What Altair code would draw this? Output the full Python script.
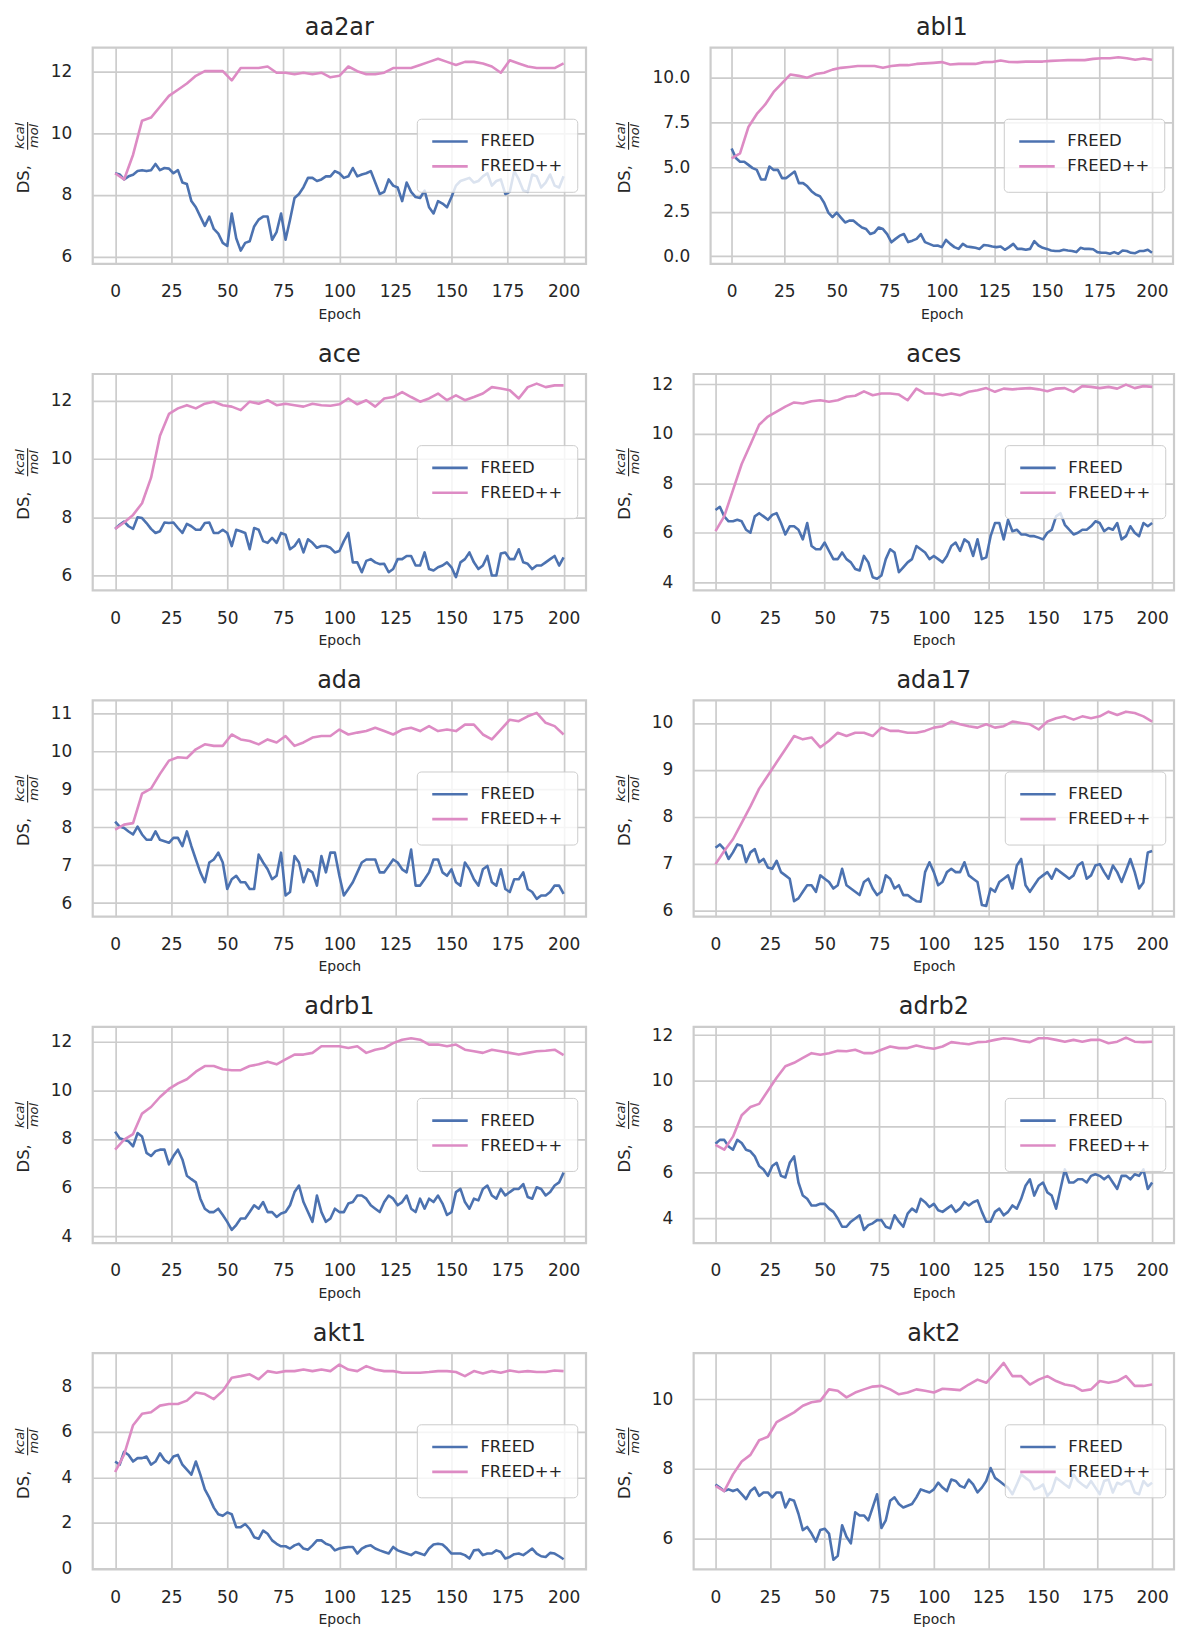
import altair as alt
import pandas as pd

FONT = "DejaVu Sans"
TXT = "#262626"
GRID = "#cccccc"

EPOCHS = list(range(0, 201, 4))       # FREED / FREED++ read every 4 epochs
EPOCHS_MID = list(range(2, 200, 4))   # extra FREED readings in between
METHODS = ["FREED", "FREED++"]
COLORS = ["#4c72b0", "#dd8bc4"]
X_TICKS = [0, 25, 50, 75, 100, 125, 150, 175, 200]
X_DOMAIN = [-10, 210]

AA2AR_FREED = [8.7, 8.5, 8.65, 8.8, 8.8, 8.8, 8.85, 8.8, 8.35, 7.6, 7.0, 6.9, 6.45, 7.4, 6.2, 6.5, 7.2, 7.3, 6.8, 6.55,
               7.9, 8.25, 8.55, 8.5, 8.6, 8.7, 8.6, 8.6, 8.7, 8.4, 8.1, 8.3, 7.8, 8.1, 7.9, 7.6, 7.8, 7.6, 8.3, 8.5,
               8.4, 8.6, 8.3, 8.5, 8.1, 8.5, 8.1, 8.6, 8.4, 8.3, 8.6]
AA2AR_FREED_MID = [8.66, 8.6, 8.77, 8.77, 9.0, 8.87, 8.7, 8.4, 7.8, 7.3,
                   7.3, 6.75, 6.35, 6.6, 6.45, 6.98, 7.3, 6.55, 7.4, 7.2,
                   8.03, 8.55, 8.45, 8.6, 8.77, 8.55, 8.87, 8.66, 8.77, 8.03,
                   8.5, 8.24, 8.4, 7.93, 8.14, 7.4, 7.72, 7.93, 8.45, 8.55,
                   8.45, 8.7, 8.45, 8.03, 8.77, 8.14, 8.66, 8.24, 8.66, 8.24]
AA2AR_FREEDPP = [8.7, 8.5, 9.3, 10.4, 10.5, 10.85, 11.2, 11.4, 11.6, 11.85, 12.0, 12.0, 12.0, 11.7, 12.1, 12.1, 12.1, 12.15, 11.95, 11.95,
                 11.9, 11.95, 11.9, 11.95, 11.8, 11.85, 12.15, 12.0, 11.9, 11.9, 11.95, 12.1, 12.1, 12.1, 12.2, 12.3, 12.4, 12.3, 12.2, 12.3,
                 12.3, 12.25, 12.15, 11.95, 12.35, 12.25, 12.15, 12.1, 12.1, 12.1, 12.25]

ABL1_FREED = [6.04, 5.3, 5.12, 4.84, 4.3, 4.84, 4.38, 4.57, 4.1, 3.92, 3.46, 3.0, 2.2, 2.17, 2.0, 1.8, 1.53, 1.34, 1.53, 0.79,
              1.16, 0.8, 0.98, 0.8, 0.6, 0.52, 0.7, 0.42, 0.55, 0.48, 0.64, 0.55, 0.55, 0.52, 0.42, 0.37, 0.85, 0.48, 0.33, 0.3,
              0.33, 0.24, 0.42, 0.4, 0.2, 0.15, 0.15, 0.3, 0.18, 0.3, 0.2]
ABL1_FREED_MID = [5.5, 5.3, 4.94, 4.3, 5.03, 4.84, 4.38, 4.75, 4.1, 3.65,
                  3.37, 2.45, 2.45, 1.9, 2.0, 1.62, 1.25, 1.62, 1.25, 0.98,
                  1.25, 0.88, 1.25, 0.7, 0.61, 0.92, 0.52, 0.7, 0.52, 0.42,
                  0.61, 0.52, 0.37, 0.7, 0.42, 0.42, 0.61, 0.42, 0.3, 0.37,
                  0.3, 0.48, 0.42, 0.24, 0.2, 0.24, 0.33, 0.2, 0.3, 0.37]
ABL1_FREEDPP = [5.49, 5.76, 7.24, 7.97, 8.5, 9.2, 9.7, 10.18, 10.1, 10.0, 10.2, 10.28, 10.45, 10.55, 10.6, 10.65, 10.65, 10.65, 10.55, 10.65,
                10.7, 10.7, 10.77, 10.8, 10.83, 10.87, 10.74, 10.77, 10.77, 10.77, 10.87, 10.88, 10.96, 10.88, 10.87, 10.9, 10.9, 10.9, 10.94, 10.96,
                10.98, 10.98, 10.98, 11.05, 11.09, 11.09, 11.14, 11.09, 11.0, 11.07, 11.0]

ACE_FREED = [7.6, 7.85, 7.6, 7.97, 7.6, 7.52, 7.8, 7.63, 7.77, 7.57, 7.8, 7.46, 7.57, 7.01, 7.52, 6.9, 7.57, 7.12, 7.12, 7.4,
             7.01, 6.79, 7.12, 7.01, 6.95, 6.84, 7.46, 6.45, 6.5, 6.45, 6.4, 6.22, 6.56, 6.67, 6.34, 6.22, 6.28, 6.45, 5.94, 6.56,
             6.45, 6.34, 6.0, 6.75, 6.56, 6.9, 6.4, 6.34, 6.45, 6.67, 6.62]
ACE_FREED_MID = [7.74, 7.69, 8.0, 7.8, 7.46, 7.82, 7.82, 7.46, 7.69, 7.57,
                 7.82, 7.46, 7.46, 7.57, 7.46, 7.63, 7.18, 7.29, 7.46, 6.9,
                 7.24, 7.24, 6.95, 7.01, 6.79, 7.18, 6.45, 6.11, 6.56, 6.39,
                 6.11, 6.56, 6.67, 6.34, 6.79, 6.17, 6.34, 6.28, 6.45, 6.79,
                 6.22, 6.67, 6.0, 6.79, 6.56, 6.45, 6.22, 6.34, 6.56, 6.34]
ACE_FREEDPP = [7.6, 7.82, 8.08, 8.48, 9.35, 10.8, 11.55, 11.74, 11.85, 11.74, 11.9, 11.97, 11.85, 11.8, 11.68, 11.97, 11.9, 12.02, 11.85, 11.9,
               11.85, 11.8, 11.9, 11.85, 11.83, 11.88, 12.08, 11.88, 12.02, 11.8, 12.08, 12.13, 12.3, 12.13, 11.97, 12.08, 12.25, 12.02, 12.19, 12.02,
               12.13, 12.25, 12.47, 12.42, 12.36, 12.08, 12.47, 12.59, 12.47, 12.53, 12.53]

ACES_FREED = [6.92, 6.66, 6.46, 6.46, 6.0, 6.79, 6.52, 6.79, 5.93, 6.26, 5.73, 5.46, 5.33, 5.26, 4.93, 4.93, 4.53, 5.06, 4.2, 4.27,
              5.33, 4.4, 4.8, 5.46, 5.2, 5.06, 4.8, 5.46, 5.26, 5.6, 5.73, 5.0, 6.39, 5.73, 6.06, 5.93, 5.86, 5.8, 6.0, 6.66,
              6.32, 5.93, 6.12, 6.26, 6.39, 6.19, 6.39, 5.86, 6.0, 6.39, 6.39]
ACES_FREED_MID = [7.05, 6.46, 6.52, 6.12, 6.66, 6.66, 6.72, 6.39, 6.26, 6.12,
                  6.39, 5.33, 5.6, 4.93, 5.2, 4.8, 4.47, 4.8, 4.14, 4.93,
                  5.2, 4.6, 4.93, 5.33, 4.93, 4.93, 5.06, 5.6, 5.73, 5.06,
                  4.93, 5.86, 6.39, 6.52, 6.12, 5.93, 5.86, 5.73, 6.12, 6.79,
                  6.12, 6.0, 6.12, 6.46, 6.06, 6.12, 5.73, 6.26, 5.86, 6.26]
ACES_FREEDPP = [6.06, 6.66, 7.72, 8.78, 9.57, 10.37, 10.7, 10.9, 11.1, 11.27, 11.23, 11.32, 11.36, 11.3, 11.36, 11.5, 11.54, 11.72, 11.56, 11.63,
                11.63, 11.59, 11.36, 11.83, 11.63, 11.63, 11.56, 11.63, 11.56, 11.7, 11.76, 11.85, 11.7, 11.83, 11.8, 11.83, 11.85, 11.8, 11.72, 11.83,
                11.85, 11.7, 11.93, 11.9, 11.85, 11.9, 11.83, 11.99, 11.85, 11.93, 11.9]

ADA_FREED = [8.15, 7.98, 7.81, 7.81, 7.67, 7.67, 7.59, 7.72, 7.89, 7.15, 6.55, 7.15, 7.07, 6.63, 6.55, 6.37, 7.28, 6.89, 6.72, 6.2,
             7.24, 6.55, 6.81, 7.24, 7.33, 6.72, 6.37, 6.81, 7.15, 7.15, 6.81, 7.15, 6.89, 7.41, 6.46, 6.81, 7.15, 6.72, 6.55, 7.07,
             6.63, 6.89, 6.55, 6.89, 6.29, 6.63, 6.37, 6.11, 6.2, 6.46, 6.24]
ADA_FREED_MID = [8.02, 7.89, 8.02, 7.67, 7.89, 7.63, 7.72, 7.5, 7.5, 6.81,
                 7.07, 7.33, 6.37, 6.72, 6.55, 6.37, 7.07, 6.63, 7.33, 6.29,
                 7.07, 6.89, 6.46, 6.81, 7.33, 6.2, 6.55, 7.07, 7.15, 6.81,
                 6.98, 7.07, 6.81, 6.46, 6.63, 7.15, 6.81, 6.89, 6.46, 6.89,
                 6.46, 6.98, 6.46, 6.37, 6.63, 6.81, 6.29, 6.2, 6.29, 6.46]
ADA_FREEDPP = [7.94, 8.07, 8.11, 8.89, 9.02, 9.41, 9.76, 9.85, 9.83, 10.06, 10.19, 10.15, 10.15, 10.45, 10.32, 10.28, 10.19, 10.32, 10.24, 10.41,
               10.15, 10.24, 10.37, 10.41, 10.41, 10.58, 10.45, 10.5, 10.54, 10.63, 10.54, 10.45, 10.58, 10.63, 10.54, 10.67, 10.54, 10.58, 10.54, 10.71,
               10.71, 10.45, 10.32, 10.58, 10.84, 10.8, 10.93, 11.02, 10.76, 10.67, 10.45]

ADA17_FREED = [7.34, 7.31, 7.24, 7.38, 7.24, 7.03, 6.92, 7.06, 6.75, 6.2, 6.4, 6.54, 6.75, 6.61, 6.54, 6.54, 6.4, 6.61, 6.47, 6.4,
               6.68, 6.54, 6.33, 6.2, 6.82, 6.82, 6.61, 6.89, 6.82, 6.75, 6.61, 6.1, 6.4, 6.68, 6.47, 7.1, 6.4, 6.68, 6.82, 6.89,
               6.75, 6.75, 7.03, 6.75, 6.99, 6.68, 6.82, 6.85, 6.82, 6.6, 7.27]
ADA17_FREED_MID = [7.41, 7.1, 7.41, 7.03, 7.31, 7.1, 6.89, 6.82, 6.68, 6.26,
                   6.54, 6.4, 6.68, 6.47, 6.89, 6.47, 6.33, 6.68, 6.33, 6.75,
                   6.47, 6.33, 6.26, 6.19, 7.03, 6.54, 6.82, 6.82, 7.03, 6.68,
                   6.12, 6.47, 6.61, 6.75, 6.96, 6.54, 6.54, 6.75, 6.68, 6.82,
                   6.68, 6.96, 6.68, 6.96, 6.82, 6.96, 6.61, 7.1, 6.47, 7.24]
ADA17_FREEDPP = [6.99, 7.27, 7.52, 7.87, 8.22, 8.6, 8.88, 9.16, 9.44, 9.72, 9.65, 9.69, 9.48, 9.62, 9.79, 9.72, 9.79, 9.79, 9.72, 9.9,
                 9.83, 9.83, 9.79, 9.79, 9.83, 9.9, 9.93, 10.03, 9.97, 9.93, 9.9, 9.97, 9.9, 9.93, 10.03, 10.0, 9.97, 9.86, 10.03, 10.1,
                 10.14, 10.07, 10.14, 10.1, 10.14, 10.24, 10.17, 10.24, 10.21, 10.14, 10.03]

ADRB1_FREED = [8.3, 7.97, 7.7, 8.1, 7.3, 7.56, 6.96, 7.56, 6.49, 6.22, 5.14, 5.0, 4.88, 4.27, 4.74, 5.0, 5.14, 5.0, 4.8, 5.0,
               5.82, 5.41, 4.6, 5.0, 4.74, 5.0, 5.35, 5.68, 5.55, 5.14, 5.41, 5.55, 5.41, 5.14, 5.55, 5.55, 5.68, 4.88, 5.82, 5.41,
               5.55, 5.95, 5.68, 5.95, 5.82, 5.95, 5.62, 6.02, 5.68, 6.09, 6.62]
ADRB1_FREED_MID = [8.03, 7.9, 8.24, 7.43, 7.5, 7.56, 7.3, 7.16, 6.35, 5.55,
                   5.0, 5.14, 4.6, 4.47, 4.74, 5.28, 5.41, 5.0, 4.94, 5.28,
                   6.09, 5.0, 5.68, 4.6, 5.14, 5.0, 5.41, 5.68, 5.28, 5.0,
                   5.68, 5.28, 5.68, 5.0, 5.14, 5.41, 5.35, 5.0, 5.95, 5.14,
                   5.48, 6.09, 5.55, 5.68, 5.95, 6.15, 5.55, 5.95, 5.82, 6.22]
ADRB1_FREEDPP = [7.56, 7.97, 8.2, 9.04, 9.31, 9.72, 10.05, 10.28, 10.45, 10.76, 10.99, 10.99, 10.86, 10.82, 10.82, 10.99, 11.06, 11.17, 11.06, 11.26,
                 11.46, 11.46, 11.53, 11.8, 11.8, 11.8, 11.73, 11.8, 11.53, 11.66, 11.73, 11.93, 12.07, 12.13, 12.07, 11.87, 11.87, 11.8, 11.87, 11.66,
                 11.6, 11.53, 11.66, 11.6, 11.53, 11.46, 11.53, 11.6, 11.62, 11.66, 11.44]

ADRB2_FREED = [7.26, 7.43, 7.0, 7.29, 6.93, 6.29, 5.86, 6.43, 5.79, 6.71, 5.0, 4.57, 4.64, 4.43, 4.0, 3.64, 4.0, 3.5, 3.79, 3.93,
               3.57, 3.86, 4.21, 4.29, 4.71, 4.64, 4.29, 4.57, 4.43, 4.57, 4.79, 3.86, 4.29, 4.14, 4.57, 4.86, 5.71, 5.43, 5.14, 4.43,
               6.14, 5.57, 5.71, 5.86, 5.86, 5.86, 5.29, 5.86, 5.93, 6.14, 5.57]
ADRB2_FREED_MID = [7.43, 7.14, 7.43, 7.0, 6.71, 6.14, 6.29, 5.86, 6.43, 5.57,
                   4.86, 4.57, 4.64, 4.29, 3.64, 3.86, 4.14, 3.71, 3.93, 3.64,
                   4.14, 3.64, 4.43, 4.86, 4.5, 4.36, 4.43, 4.29, 4.71, 4.71,
                   4.29, 3.86, 4.43, 4.29, 4.43, 5.43, 5.0, 5.57, 5.0, 5.29,
                   5.57, 5.71, 5.57, 5.93, 5.71, 5.57, 5.86, 5.71, 5.86, 5.29]
ADRB2_FREEDPP = [7.21, 7.0, 7.57, 8.5, 8.86, 9.0, 9.57, 10.14, 10.64, 10.79, 11.0, 11.21, 11.14, 11.21, 11.31, 11.29, 11.36, 11.21, 11.21, 11.36,
                 11.5, 11.43, 11.43, 11.54, 11.46, 11.4, 11.5, 11.69, 11.64, 11.6, 11.69, 11.71, 11.79, 11.86, 11.83, 11.74, 11.69, 11.86, 11.86, 11.79,
                 11.71, 11.79, 11.71, 11.79, 11.79, 11.64, 11.71, 11.89, 11.71, 11.69, 11.71]

AKT1_FREED = [4.7, 5.13, 4.7, 4.85, 4.56, 5.06, 4.63, 4.99, 4.34, 4.7, 3.47, 2.67, 2.31, 2.38, 1.81, 1.73, 1.3, 1.52, 1.08, 0.97,
              1.01, 0.87, 1.01, 1.23, 1.01, 0.87, 0.94, 0.65, 0.97, 0.87, 0.72, 0.94, 0.72, 0.58, 0.65, 0.87, 1.08, 0.87, 0.65, 0.58,
              0.79, 0.58, 0.65, 0.72, 0.5, 0.65, 0.72, 0.65, 0.5, 0.65, 0.4]
AKT1_FREED_MID = [4.56, 4.99, 4.85, 4.92, 4.7, 4.77, 4.92, 4.56, 4.12, 4.12,
                  3.11, 2.38, 2.46, 1.81, 1.95, 1.37, 1.66, 1.23, 0.97, 0.87,
                  1.08, 0.82, 1.23, 1.08, 0.79, 0.91, 0.94, 0.87, 1.01, 0.79,
                  0.65, 0.79, 0.65, 0.72, 0.58, 1.05, 1.05, 0.65, 0.65, 0.43,
                  0.82, 0.65, 0.79, 0.43, 0.62, 0.58, 0.87, 0.53, 0.68, 0.53]
AKT1_FREEDPP = [4.24, 5.0, 6.3, 6.8, 6.87, 7.16, 7.23, 7.23, 7.38, 7.74, 7.67, 7.45, 7.81, 8.39, 8.46, 8.54, 8.32, 8.68, 8.61, 8.68,
                8.68, 8.75, 8.68, 8.75, 8.68, 8.97, 8.75, 8.68, 8.9, 8.75, 8.68, 8.68, 8.61, 8.61, 8.61, 8.64, 8.68, 8.68, 8.64, 8.46,
                8.68, 8.58, 8.68, 8.61, 8.71, 8.64, 8.68, 8.64, 8.64, 8.71, 8.68]

AKT2_FREED = [7.55, 7.36, 7.36, 7.27, 7.36, 7.22, 7.32, 7.32, 6.89, 7.08, 6.24, 6.14, 6.24, 6.14, 5.5, 6.05, 6.75, 6.66, 6.89, 6.3,
              7.08, 6.99, 6.94, 7.18, 7.36, 7.41, 7.46, 7.69, 7.51, 7.69, 7.32, 7.65, 7.74, 7.55, 7.27, 7.84, 7.65, 7.46, 7.22, 7.74,
              7.55, 7.84, 7.55, 7.65, 7.27, 7.69, 7.6, 7.65, 7.32, 7.65, 7.6]
AKT2_FREED_MID = [7.46, 7.41, 7.41, 7.13, 7.46, 7.32, 7.18, 7.32, 7.13, 6.71,
                  6.33, 5.91, 6.28, 5.39, 6.38, 5.86, 6.66, 6.52, 7.27, 6.52,
                  7.18, 6.89, 6.99, 7.41, 7.32, 7.6, 7.36, 7.65, 7.46, 7.55,
                  7.46, 8.02, 7.65, 7.46, 7.55, 7.74, 7.41, 7.55, 7.36, 7.65,
                  7.46, 7.65, 7.46, 7.46, 7.65, 7.32, 7.55, 7.65, 7.27, 7.51]
AKT2_FREEDPP = [7.51, 7.36, 7.84, 8.21, 8.4, 8.82, 8.92, 9.34, 9.48, 9.62, 9.81, 9.91, 9.95, 10.28, 10.24, 10.05, 10.19, 10.28, 10.36, 10.38,
                10.28, 10.14, 10.19, 10.28, 10.24, 10.19, 10.3, 10.28, 10.26, 10.42, 10.56, 10.47, 10.75, 11.04, 10.66, 10.66, 10.42, 10.56, 10.66, 10.52,
                10.42, 10.38, 10.24, 10.28, 10.52, 10.47, 10.52, 10.66, 10.38, 10.38, 10.42]

PANELS = [
    ("aa2ar", AA2AR_FREED, AA2AR_FREED_MID, AA2AR_FREEDPP, [5.77, 12.76], [6, 8, 10, 12], "d"),
    ("abl1", ABL1_FREED, ABL1_FREED_MID, ABL1_FREEDPP, [-0.42, 11.68], [0, 2.5, 5, 7.5, 10], ".1f"),
    ("ace", ACE_FREED, ACE_FREED_MID, ACE_FREEDPP, [5.49, 12.92], [6, 8, 10, 12], "d"),
    ("aces", ACES_FREED, ACES_FREED_MID, ACES_FREEDPP, [3.67, 12.42], [4, 6, 8, 10, 12], "d"),
    ("ada", ADA_FREED, ADA_FREED_MID, ADA_FREEDPP, [5.64, 11.35], [6, 7, 8, 9, 10, 11], "d"),
    ("ada17", ADA17_FREED, ADA17_FREED_MID, ADA17_FREEDPP, [5.87, 10.48], [6, 7, 8, 9, 10], "d"),
    ("adrb1", ADRB1_FREED, ADRB1_FREED_MID, ADRB1_FREEDPP, [3.73, 12.6], [4, 6, 8, 10, 12], "d"),
    ("adrb2", ADRB2_FREED, ADRB2_FREED_MID, ADRB2_FREEDPP, [2.93, 12.36], [4, 6, 8, 10, 12], "d"),
    ("akt1", AKT1_FREED, AKT1_FREED_MID, AKT1_FREEDPP, [-0.05, 9.47], [0, 2, 4, 6, 8], "d"),
    ("akt2", AKT2_FREED, AKT2_FREED_MID, AKT2_FREEDPP, [5.11, 11.32], [6, 8, 10], "d"),
]

# plot-area width and y-label shift for each panel
LAYOUT = {
    "aa2ar": (495, 0), "abl1": (464, -17),
    "ace": (495, 0), "aces": (482, 0),
    "ada": (495, 0), "ada17": (482, 0),
    "adrb1": (495, 0), "adrb2": (482, 0),
    "akt1": (495, 0), "akt2": (482, 0),
}
H = 217

for _p in PANELS:
    assert len(_p[1]) == len(EPOCHS) and len(_p[3]) == len(EPOCHS), _p[0]
    assert len(_p[2]) == len(EPOCHS_MID), _p[0]

ONE = pd.DataFrame({"k": [0]})


def txt(text, x, y, size, italic=False, angle=0, align="center", color=TXT):
    kw = dict(text=text, font=FONT, fontSize=size, color=color, align=align, baseline="middle")
    if italic:
        kw["fontStyle"] = "italic"
    if angle:
        kw["angle"] = angle
    return alt.Chart(ONE).mark_text(**kw).encode(x=alt.value(x), y=alt.value(y))


def panel(name, freed, freed_mid, freedpp, ydom, yticks, fmt):
    w, shift = LAYOUT[name]
    df = pd.DataFrame({
        "Epoch": EPOCHS + EPOCHS_MID + EPOCHS,
        "DS": list(freed) + list(freed_mid) + list(freedpp),
        "Method": ["FREED"] * (len(EPOCHS) + len(EPOCHS_MID)) + ["FREED++"] * len(EPOCHS),
    })
    lines = alt.Chart(df).mark_line(strokeWidth=2.6, strokeJoin="round").encode(
        x=alt.X("Epoch:Q", scale=alt.Scale(domain=X_DOMAIN, nice=False, zero=False),
                axis=alt.Axis(values=X_TICKS, format="d", title="Epoch")),
        y=alt.Y("DS:Q", scale=alt.Scale(domain=ydom, nice=False, zero=False),
                axis=alt.Axis(values=yticks, format=fmt, title=None)),
        color=alt.Color("Method:N", scale=alt.Scale(domain=METHODS, range=COLORS), legend=None),
        order=alt.Order("Epoch:Q"),
    )
    layers = [lines]
    # y-axis label  DS, kcal/mol
    layers.append(txt("DS,", -68.5 + shift, H / 2 + 23.5, 16.5, angle=270))
    layers.append(txt("kcal", -72.5 + shift, H / 2 - 20, 13, italic=True, angle=270))
    layers.append(txt("mol", -58.5 + shift, H / 2 - 20, 13, italic=True, angle=270))
    layers.append(alt.Chart(ONE).mark_rule(color=TXT, strokeWidth=1.1).encode(
        x=alt.value(-65.3 + shift), y=alt.value(H / 2 - 34), y2=alt.value(H / 2 - 6)))
    # panel title
    layers.append(txt(name, w / 2, -19.5, 24))
    # legend box (matplotlib style, center right)
    bx0, bx1 = w - 169.3, w - 8.3
    by0 = (H - 73.3) / 2
    by1 = by0 + 73.3
    layers.append(alt.Chart(ONE).mark_rect(fill="white", fillOpacity=0.8, stroke=GRID, strokeWidth=1,
                                           cornerRadius=4).encode(
        x=alt.value(bx0), x2=alt.value(bx1), y=alt.value(by0), y2=alt.value(by1)))
    for i, (m, c) in enumerate(zip(METHODS, COLORS)):
        yy = by0 + 22.3 + 25 * i
        layers.append(alt.Chart(ONE).mark_rule(color=c, strokeWidth=2.6).encode(
            x=alt.value(bx0 + 15), x2=alt.value(bx0 + 50.6), y=alt.value(yy)))
        layers.append(txt(m, bx0 + 63.3, yy, 16.5, align="left"))
    return alt.layer(*layers).properties(width=w, height=H)


panels = [panel(*p) for p in PANELS]

chart = alt.concat(*panels, columns=2, spacing={"row": 18.5, "column": 26}, align="none").resolve_scale(
    x="independent", y="independent", color="independent"
).properties(
    padding={"left": 5, "top": 4, "right": 0, "bottom": 0},
    background="white",
).configure_view(
    stroke=GRID, strokeWidth=2.2, fill="white",
).configure_axis(
    grid=True, gridColor=GRID, gridWidth=1.7, ticks=False, tickSize=0, domain=False,
    labelFont=FONT, labelFontSize=17, labelColor=TXT,
    titleFont=FONT, titleFontSize=14, titleColor=TXT, titleFontWeight="normal",
).configure_axisX(
    labelPadding=20, titlePadding=7.5,
).configure_axisY(
    labelPadding=21,
)

chart.save("out.html", embed_options={"renderer": "svg", "actions": False})
